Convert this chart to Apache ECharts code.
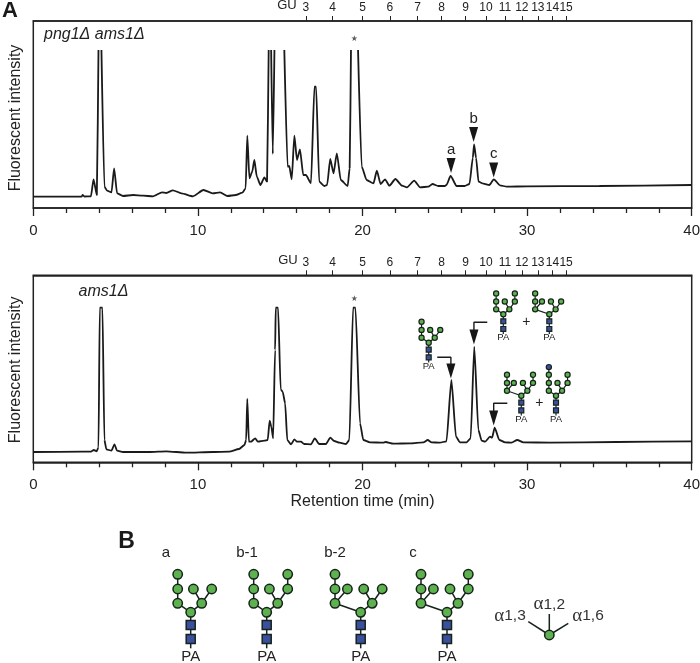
<!DOCTYPE html>
<html><head><meta charset="utf-8">
<style>html,body{margin:0;padding:0;background:#fff}#c{width:700px;height:663px}</style>
<script src="https://cdn.jsdelivr.net/npm/echarts@6/dist/echarts.min.js"></script>
</head><body><div id="c"></div>
<script>
const guPositions = [16.56,18.18,20.0,21.66,23.34,24.8,26.26,27.5,28.65,29.68,30.65,31.54,32.37];
const guLabels = ['3','4','5','6','7','8','9','10','11','12','13','14','15'];

const topTime = [0,2.93,3.0,3.1,3.5,3.66,3.86,3.96,4.05,4.14,4.32,4.48,4.75,4.91,5.09,5.45,6.06,6.67,7.27,7.82,8.08,8.48,9,9.7,10.34,10.9,11.35,11.8,12.3,12.7,12.9,13.0,13.13,13.3,13.43,13.58,13.8,14.04,14.2,14.3,14.38,14.45,14.55,14.65,15,15.25,15.45,15.55,15.7,15.86,16.02,16.2,16.4,16.56,16.87,17.08,17.18,17.37,17.68,17.85,18.04,18.24,18.44,18.68,19.1,19.22,19.3,19.5,19.73,19.95,20.25,20.67,20.87,21.1,21.37,21.63,22,22.4,22.7,23.14,23.5,24,24.25,24.6,25,25.1,25.35,25.72,26.2,26.5,26.7,26.78,26.9,27.05,27.35,27.7,27.98,28.35,28.77,30,34.4,40];
const topSignal = [11.3,11.3,13,11.5,11.7,28.7,13,158,null,158,21.3,17.3,15.7,39.7,14.7,12,13,12.3,11.7,15.7,15,17.7,14.7,11.7,18,14.7,15.7,12,13,15.3,19.7,72.3,29.7,36.3,48,31.3,23,30.7,26.3,158,null,158,54,158,null,158,41.3,42,28.7,72.3,48,58.7,33,33,24.7,121.3,121.3,26.3,22,23,49,34.7,54.7,28,22,40,158,null,158,41.3,28,24.7,37.3,24,28.7,22.3,29,22.3,20.7,27.3,20.7,21.3,24,22,22,23,32,22,22,24,50,63.7,50,26.3,24.3,23,28.7,22.7,21.3,21.7,22,23];

const bottomTime = [0,3.0,3.5,3.68,3.85,3.96,4.04,4.2,4.32,4.44,4.75,4.93,5.09,5.45,7.07,8.08,9.3,10.9,11.9,12.5,12.83,12.93,13.0,13.1,13.23,13.48,13.64,14.04,14.24,14.36,14.46,14.57,14.69,14.73,14.87,15.03,15.15,15.3,15.43,15.66,15.86,16.02,16.26,16.46,16.87,17.1,17.37,17.78,18.04,18.28,18.6,19,19.2,19.43,19.57,19.85,20.05,20.45,21.26,21.4,21.87,22.9,23.7,23.96,24.2,24.7,25.1,25.4,25.68,25.92,26.33,26.57,26.79,27.04,27.24,27.44,27.75,27.87,28.03,28.31,28.66,29.06,29.4,29.77,31.4,35.44,40];
const bottomSignal = [10.3,10.6,10.6,12.3,11,15,154.6,154.6,22.3,13,11.6,18,11.6,10.3,10.3,11,9.6,10.3,10.6,13.3,17.3,22.3,63.3,20.6,20.6,24,20.6,21.6,22.3,41.6,35.6,24,112.3,154.6,154.6,73,70.6,59,22.3,18,23,20.6,20.6,18.3,18,24,18.3,18.3,24.6,21.3,19.6,18.3,22.3,154.6,154.6,39,22.3,20,19.6,20.3,18.6,19,20,22.3,20,19.6,21,82.3,25.6,20,20,24,115.6,32.3,21.6,20.6,25.6,24.6,34.6,22.3,20,19.6,22.3,20,19.6,20.3,21];

const topArrowTime = [25.38,26.75,27.97];
const topArrowLevel = [42.5,73.5,38];
const topArrowNames = ['a','b','c'];
const bottomArrowTime = [25.37,26.77,27.97];
const bottomArrowLevel = [91.3,125.3,44.3];
const starTime = 19.5;
const starLevelTop = 169;
const starLevelBottom = 163.3;
const leaderA = [[24.54,105],[25.37,105],[25.37,97]];
const leaderB = [[27.58,140],[26.77,140],[26.77,132]];
const leaderC = [[28.8,59],[27.97,59],[27.97,51]];

const FONT = '"Liberation Sans", Arial, sans-serif';
const INK = '#222';
const pairs = (t, s) => t.map((v, i) => [v, s[i]]);

function gridAxes(i, namePad, showName) {
  return {
    x: [{
      gridIndex: i, type: 'value', min: 0, max: 40, interval: 10, position: 'bottom',
      splitLine: {show: false},
      axisLine: {onZero: false, lineStyle: {color: INK, width: 1.5}},
      axisTick: {length: 8, lineStyle: {color: INK, width: 1.3}},
      minorTick: {show: true, splitNumber: 5, length: 5, lineStyle: {color: INK, width: 1.3}},
      minorSplitLine: {show: false},
      axisLabel: {fontFamily: FONT, fontSize: 15, color: INK, margin: 15, showMinLabel: true, showMaxLabel: true},
      name: showName ? 'Retention time (min)' : '', nameLocation: 'middle', nameGap: 31, nameMoveOverlap: false,
      nameTextStyle: {fontFamily: FONT, fontSize: 16, color: INK}
    }, {
      gridIndex: i, type: 'value', min: 0, max: 40, position: 'top',
      splitLine: {show: false},
      axisLine: {show: true, onZero: false, lineStyle: {color: INK, width: 1.5}},
      axisTick: {show: true, length: 5, customValues: guPositions, lineStyle: {color: INK, width: 1}},
      axisLabel: {show: true, customValues: guPositions, margin: 7, fontFamily: FONT, fontSize: 12, color: INK, hideOverlap: false,
        formatter: v => guLabels[guPositions.indexOf(v)] || ''}
    }],
    y: {
      gridIndex: i, type: 'value', min: 0, max: 187,
      splitLine: {show: false}, axisTick: {show: false}, axisLabel: {show: false},
      axisLine: {show: false},
      name: 'Fluorescent intensity', nameLocation: 'middle', nameGap: 10,
      nameTextStyle: {fontFamily: FONT, fontSize: 16, color: INK, padding: namePad}
    }
  };
}
const a0 = gridAxes(0, [0,7,0,0], false), a1 = gridAxes(1, [0,2,0,0], true);

/* glycan symbol templates: [dx, dy, parent, colour-key] */
const GLY = {
  a:  [[0,0,-1],[-13,-9,0],[-13,-23.3,1],[-13,-38,2],[11,-9,0],[2.7,-23.3,4],[21,-23.3,4]],
  b1: [[0,0,-1],[-13,-9,0],[-13,-23.3,1],[-13,-38,2],[11,-9,0],[2.7,-23.3,4],[21,-23.3,4],[21,-38,6]],
  b2: [[0,0,-1],[-25.7,-9,0],[-25.7,-23.3,1],[-25.7,-38,2],[-13.3,-23.3,1],[11.5,-9,0],[3,-23.3,5],[21.5,-23.3,5]],
  c:  [[0,0,-1],[-26,-9,0],[-26,-23.3,1],[-26,-38,2],[-13.6,-23.3,1],[11,-9,0],[3,-23.3,5],[21.3,-23.3,5],[21.3,-38,7]],
  b1x:[[0,0,-1],[-13,-9,0],[-13,-23.3,1],[-13,-38,2],[-13,-52,3,'blue'],[11,-9,0],[2.7,-23.3,5],[21,-23.3,5],[21,-38,7]]
};
const GREEN = '#5DB14E', BLUE = '#3B4F9F', EDGE = '#16231a';
function glycan(cx, cy, key, s, fs) {
  const out = [], nodes = GLY[key], lw = s > 0.8 ? 1.5 : 1.2;
  const ln = (x1,y1,x2,y2) => out.push({type:'line',shape:{x1,y1,x2,y2},style:{stroke:EDGE,lineWidth:lw},z:20});
  ln(cx, cy, cx, cy + 36*s);
  nodes.forEach(n => { if (n[2] >= 0) { const p = nodes[n[2]]; ln(cx+p[0]*s, cy+p[1]*s, cx+n[0]*s, cy+n[1]*s); } });
  [12.7, 26.7].forEach(d => {
    const h = 9*s/2;
    out.push({type:'rect',shape:{x:cx-h,y:cy+d*s-h,width:2*h,height:2*h},style:{fill:BLUE,stroke:EDGE,lineWidth:lw},z:21});
  });
  nodes.forEach(n => out.push({type:'circle',shape:{cx:cx+n[0]*s,cy:cy+n[1]*s,r:4.7*s},
    style:{fill:n[3]==='blue'?BLUE:GREEN,stroke:EDGE,lineWidth:lw},z:21}));
  out.push(txt('PA', cx, cy + (s>0.8?44.7:23.5), fs, '#222'));
  return out;
}
function txt(text, x, y, size, fill, extra) {
  return {type:'text',x,y,z:22,style:Object.assign({text,fontFamily:FONT,fontSize:size,fill:fill||INK,align:'center',verticalAlign:'middle'},extra||{})};
}
const aTxt = (label, x, y) => ({type:'text',x,y,z:22,style:{
  text:'{s|\u03b1}{n|'+label+'}',align:'center',verticalAlign:'middle',
  rich:{s:{fontFamily:'"Liberation Serif",serif',fontSize:19,fill:'#333'},n:{fontFamily:FONT,fontSize:15.5,fill:'#333'}}}});

const graphics = [
  txt('A', 10, 11, 22, '#1a1a1a', {fontWeight:'bold'}),
  txt('B', 126.5, 542, 23, '#1a1a1a', {fontWeight:'bold'}),
  txt('GU', 287, 5.5, 13),
  txt('GU', 288, 260, 13),
  txt('png1\u0394 ams1\u0394', 44, 35, 16, INK, {fontStyle:'italic',align:'left'}),
  txt('ams1\u0394', 78.5, 291.5, 16, INK, {fontStyle:'italic',align:'left'}),
  txt('a', 166, 553, 15), txt('b-1', 247, 553, 15), txt('b-2', 335, 553, 15), txt('c', 413, 553, 15),
  txt('+', 526.3, 322, 14), txt('+', 539.3, 403, 14),
  ...glycan(190.7, 612.3, 'a', 1, 15),
  ...glycan(266.7, 612.3, 'b1', 1, 15),
  ...glycan(360.7, 612.3, 'b2', 1, 15),
  ...glycan(447, 612.3, 'c', 1, 15),
  ...glycan(428.7, 342.7, 'a', 0.55, 9.5),
  ...glycan(503.3, 314.3, 'b1', 0.55, 9.5),
  ...glycan(549.3, 314.3, 'b2', 0.55, 9.5),
  ...glycan(521.3, 395.7, 'c', 0.55, 9.5),
  ...glycan(556, 395.7, 'b1x', 0.55, 9.5),
  {type:'line',shape:{x1:549.3,y1:635,x2:528.3,y2:621.7},style:{stroke:EDGE,lineWidth:1.5},z:20},
  {type:'line',shape:{x1:549.3,y1:635,x2:549.3,y2:614},style:{stroke:EDGE,lineWidth:1.5},z:20},
  {type:'line',shape:{x1:549.3,y1:635,x2:568.3,y2:623.3},style:{stroke:EDGE,lineWidth:1.5},z:20},
  {type:'circle',shape:{cx:549.3,cy:635,r:4.7},style:{fill:GREEN,stroke:EDGE,lineWidth:1.5},z:21},
  aTxt('1,3', 510, 616), aTxt('1,2', 549.3, 604.3), aTxt('1,6', 588, 616)
];

const trace = (i, t, s) => ({
  type:'line', xAxisIndex:i*2, yAxisIndex:i, data:pairs(t,s), symbol:'none', connectNulls:false,
  smooth:0.2, smoothMonotone:'x', lineStyle:{color:'#1a1a1a',width:1.8}, silent:true
});
const arrows = (i, t, s, names) => ({
  type:'scatter', xAxisIndex:i*2, yAxisIndex:i, symbol:'triangle', symbolRotate:180, symbolSize:[9,15],
  itemStyle:{color:'#161616', opacity:1}, data:pairs(t,s), silent:true,
  label: names ? {show:true, position:'top', distance:1, fontFamily:FONT, fontSize:15, color:INK,
    formatter:p => names[p.dataIndex]} : {show:false}
});
const leader = (i, pts) => ({
  type:'line', xAxisIndex:i*2, yAxisIndex:i, data:pts, symbol:'none', silent:true,
  lineStyle:{color:'#1a1a1a',width:1.4}
});
const star = (i, level) => ({
  type:'scatter', xAxisIndex:i*2, yAxisIndex:i, symbolSize:0, data:[[starTime, level]], silent:true,
  label:{show:true, position:'inside', formatter:'\u2605', fontFamily:'"DejaVu Sans"', fontSize:8, color:'#333'}
});

const gridBase = {left:33.3, width:658.4, height:187, show:true, borderColor:INK, borderWidth:1.5, backgroundColor:'transparent', outerBoundsMode:'none', containLabel:false};
const chart = echarts.init(document.getElementById('c'), null, {renderer:'canvas'});
chart.setOption({
  animation:false, backgroundColor:'#fff',
  grid:[
    Object.assign({top:21}, gridBase),
    Object.assign({top:275.3}, gridBase)
  ],
  xAxis:[...a0.x, ...a1.x],
  yAxis:[a0.y, a1.y],
  series:[
    trace(0, topTime, topSignal),
    trace(1, bottomTime, bottomSignal),
    arrows(0, topArrowTime, topArrowLevel, topArrowNames),
    arrows(1, bottomArrowTime, bottomArrowLevel, null),
    leader(1, leaderA), leader(1, leaderB), leader(1, leaderC),
    star(0, starLevelTop), star(1, starLevelBottom)
  ],
  graphic:{elements:graphics}
});
</script></body></html>
